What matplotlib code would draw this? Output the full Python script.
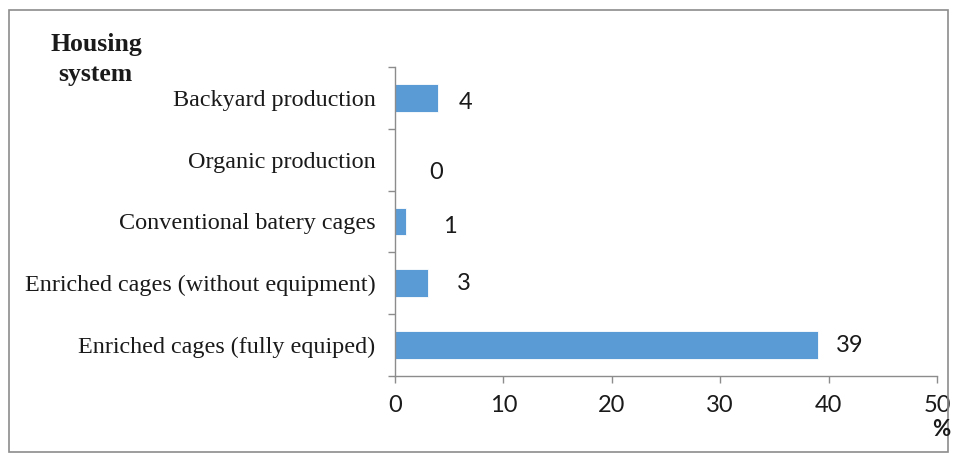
import numpy as np
import matplotlib.pyplot as plt
from matplotlib.patches import Rectangle

# data (bottom to top)
categories = ["Enriched cages (fully equiped)",
              "Enriched cages (without equipment)",
              "Conventional batery cages",
              "Organic production",
              "Backyard production"]
values = [39, 3, 1, 0, 4]
xticks = [0, 10, 20, 30, 40, 50]

# label offsets (points) as placed in the original
label_dx = [13, 21.5, 27, 24.5, 15]
label_dy = [-0.3, -0.3, -3.5, -9.5, -3]

bar_color = "#5B9BD5"
axis_color = "#8C8C8C"
num_font = "Lato"
cat_font = "Liberation Serif"

fig = plt.figure(figsize=(9.55, 4.55), dpi=100)
ax = fig.add_axes([395/955, 79/455, 542/955, 309/455])

pos = np.arange(len(categories))
ax.barh(pos, values, height=0.45, color=bar_color, edgecolor="white", linewidth=0.6)

for p, v, dx, dy in zip(pos, values, label_dx, label_dy):
    ax.annotate(str(v), xy=(v, p), xytext=(dx, dy), textcoords="offset points",
                ha="left", va="center", fontsize=17, family=num_font, color="#1a1a1a")

ax.set_xlim(0, 50)
ax.set_ylim(-0.5, len(categories) - 0.5)

ax.set_xticks(xticks)
ax.set_xticklabels([str(t) for t in xticks], family=num_font, fontsize=17)
ax.tick_params(axis="x", direction="out", length=5, width=1, color=axis_color, pad=9,
               labelcolor="#1a1a1a")

# boundaries as major ticks, names as minor ones
ax.set_yticks(np.arange(-0.5, len(categories), 1.0))
ax.set_yticklabels([])
ax.set_yticks(pos, minor=True)
ax.set_yticklabels(categories, minor=True, family=cat_font, fontsize=17.4)
ax.tick_params(axis="y", which="major", direction="out", length=5, width=1, color=axis_color)
ax.tick_params(axis="y", which="minor", length=0, pad=14, labelcolor="#1a1a1a")

for s in ["top", "right"]:
    ax.spines[s].set_visible(False)
for s in ["left", "bottom"]:
    ax.spines[s].set_color(axis_color)
    ax.spines[s].set_linewidth(1)

fig.text(96/955, 1 - 45/455, "Housing", ha="center", va="center",
         family=cat_font, fontsize=18.5, fontweight="bold", color="#1a1a1a")
fig.text(95/955, 1 - 75/455, "system", ha="center", va="center",
         family=cat_font, fontsize=18.5, fontweight="bold", color="#1a1a1a")
fig.text(941/955, 1 - 429/455, "%", ha="center", va="center",
         family=num_font, fontsize=16, fontweight="bold", color="#1a1a1a")

fig.patches.append(Rectangle((9/955, 3/455), 939/955, 442/455, transform=fig.transFigure,
                             fill=False, edgecolor=axis_color, linewidth=1.2))

fig.savefig("out.png", dpi=100)
